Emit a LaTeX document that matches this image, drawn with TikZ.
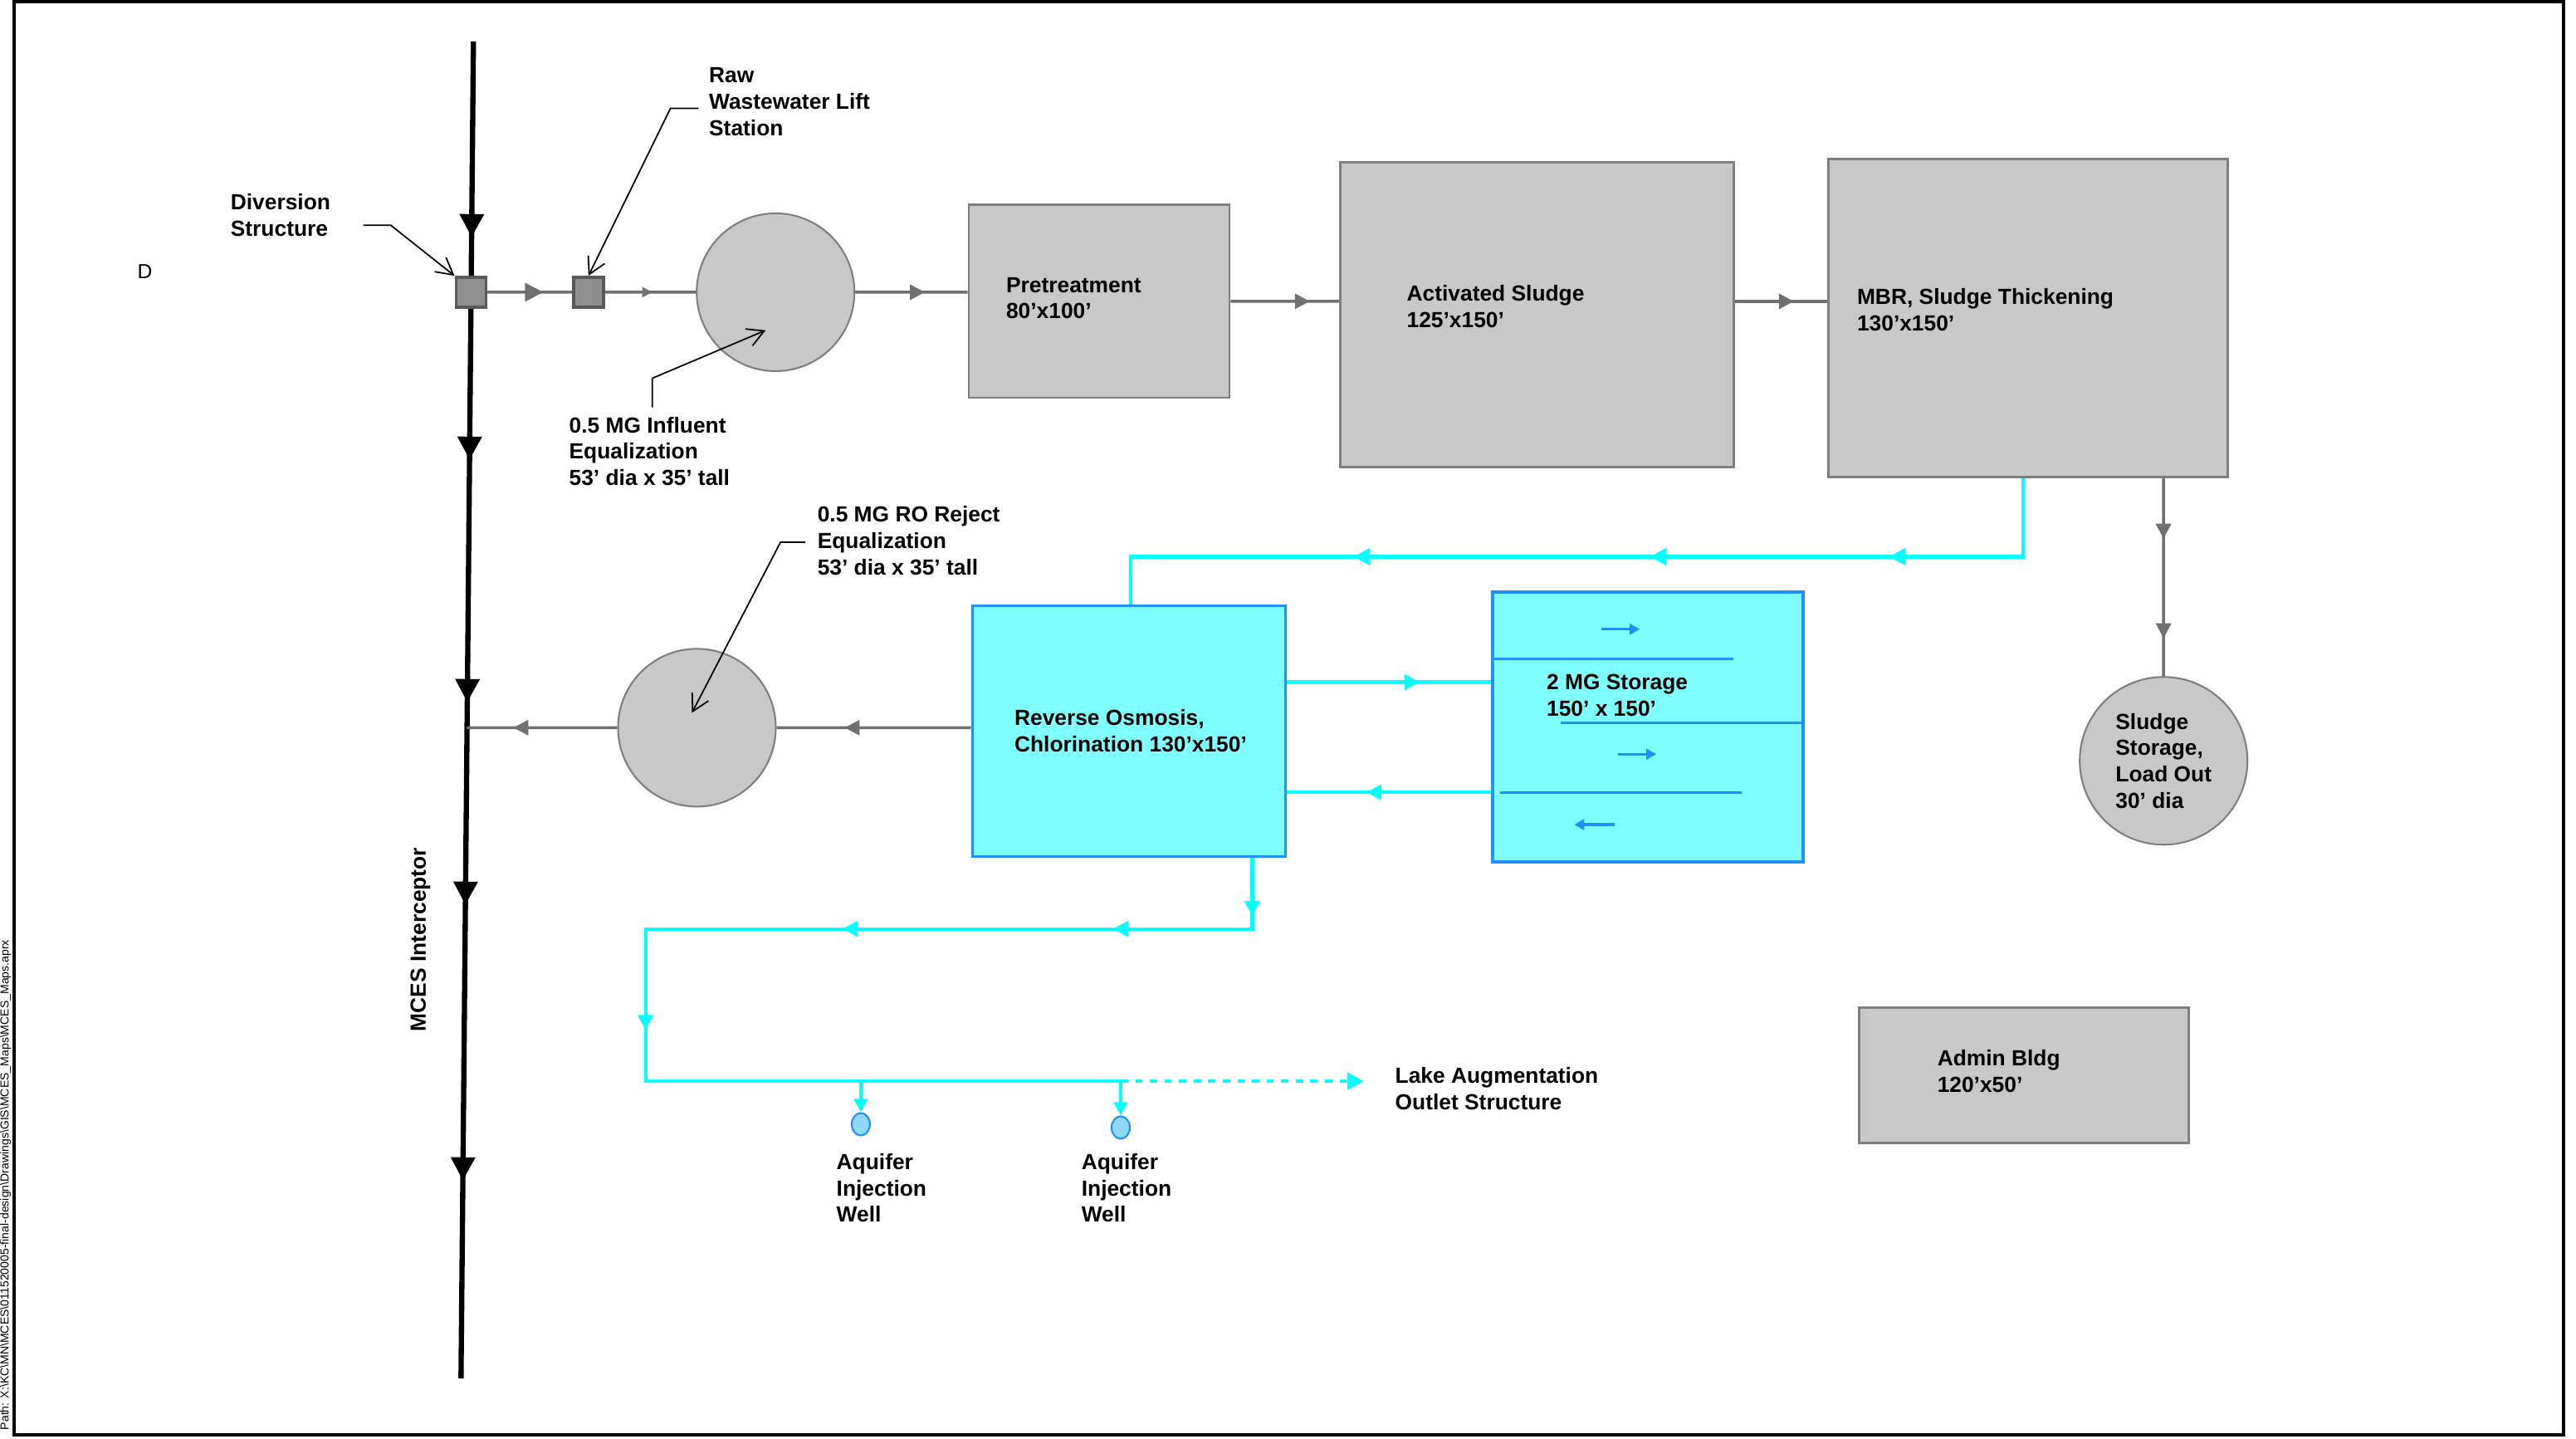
\documentclass[tikz,border=0pt]{standalone}
\usepackage{fontspec}
\setmainfont{Liberation Sans}
\usetikzlibrary{decorations.markings,arrows.meta,shapes.geometric}
\definecolor{boxgray}{HTML}{C8C8C8}
\definecolor{edgegray}{HTML}{7F7F7F}
\definecolor{linegray}{HTML}{707070}
\definecolor{chambergray}{HTML}{8F8F8F}
\definecolor{aqua}{HTML}{00FFFF}
\definecolor{aquafill}{HTML}{80FFFF}
\definecolor{rimblue}{HTML}{1E90FF}
\definecolor{wellfill}{HTML}{8FD8FF}

\begin{document}
\begin{tikzpicture}
[
scale=0.997,
amark/.style 2 args={
            postaction={decorate,
                        decoration={
                                    markings,
                                    mark=at position {#1} with {\arrow{Triangle[length=#2,width=#2]}}
                        }
            }
},
plant/.style={draw=edgegray,fill=boxgray,line width=0.8pt,rectangle,inner sep=0pt},
treat/.style={draw=rimblue,fill=aquafill,line width=1pt,rectangle,inner sep=0pt},
tank/.style={draw=edgegray,fill=boxgray,line width=0.6pt,circle,inner sep=0pt},
chamber/.style={draw=edgegray!70!black,fill=chambergray,line width=1pt,inner sep=0pt,minimum size=0.36cm},
well/.style={ellipse,draw=rimblue,fill=wellfill,line width=0.6pt,minimum width=0.22cm,minimum height=0.27cm,inner sep=0pt},
lbl/.style={font=\fontsize{7.5}{9}\selectfont\bfseries,align=left,inner sep=0pt,anchor=west},
pipe/.style={draw=linegray,line width=1pt},
clean/.style={draw=aqua,line width=1.2pt},
baffle/.style={draw=rimblue,line width=0.9pt},
lead/.style={draw=black,line width=0.5pt,-{Straight Barb[length=2mm,width=2.2mm]}},
]

\useasboundingbox (0,0) rectangle (31.123,-17.372);
\draw[line width=1.1pt] (0.17,-0.02) rectangle (30.97,-17.33);
\node[rotate=90,anchor=south west,inner sep=0pt,font=\fontsize{4}{4}\selectfont] (pathnote) at (0.14,-17.28)
  {Path: X:\textbackslash KC\textbackslash MN\textbackslash MCES\textbackslash 011520005-final-design\textbackslash Drawings\textbackslash GIS\textbackslash MCES\_Maps\textbackslash MCES\_Maps.aprx};
\node[font=\fontsize{7}{8}\selectfont] (dmark) at (1.75,-3.28) {D};

%The interceptor
\coordinate (mtop) at (5.72,-0.50);
\coordinate (mbot) at (5.57,-16.65);
\draw[line width=1.8pt,amark={2.36cm}{2.8mm},amark={5.04cm}{2.8mm},amark={7.96cm}{2.8mm},
      amark={10.40cm}{2.8mm},amark={13.72cm}{2.8mm}] (mtop) -- (mbot);
\node[lbl,rotate=90,anchor=center] (mces) at (5.08,-11.35) {MCES Interceptor};

%Place the nodes
\node[chamber] (div) at (5.69,-3.53) {};
\node[chamber] (lift) at (7.11,-3.53) {};
\node[tank,minimum size=1.9cm] (infeq) at (9.37,-3.53) {};
\node[plant,minimum width=3.14cm,minimum height=2.32cm] (pretreat) at (13.28,-3.64) {};
\node[plant,minimum width=4.74cm,minimum height=3.67cm] (actsl) at (18.57,-3.80) {};
\node[plant,minimum width=4.81cm,minimum height=3.83cm] (mbr) at (24.50,-3.84) {};
\node[tank,minimum size=2.02cm,font=\fontsize{7.5}{9}\selectfont\bfseries,align=left] (sludge) at (26.14,-9.19)
  {Sludge\\Storage,\\Load Out\\30' dia};
\node[treat,minimum width=3.77cm,minimum height=3.02cm] (ro) at (13.64,-8.83) {};
\node[treat,minimum width=3.74cm,minimum height=3.25cm] (store) at (19.91,-8.78) {};
\node[tank,minimum size=1.9cm] (rejeq) at (8.42,-8.79) {};
\node[plant,minimum width=3.97cm,minimum height=1.63cm] (admin) at (24.455,-12.985) {};
\node[well] (well1) at (10.40,-13.58) {};
\node[well] (well2) at (13.54,-13.62) {};

%Labels
\node[lbl] (divtxt) at (2.78,-2.60) {Diversion\\Structure};
\node[lbl] (rawtxt) at (8.56,-1.23) {Raw\\Wastewater Lift\\Station};
\node[lbl] (inftxt) at (6.87,-5.45) {0.5 MG Influent\\Equalization\\53' dia x 35' tall};
\node[lbl] (rejtxt) at (9.87,-6.53) {0.5 MG RO Reject\\Equalization\\53' dia x 35' tall};
\node[lbl] (pretreattxt) at (12.15,-3.60) {Pretreatment\\80'x100'};
\node[lbl] (actsltxt) at (16.99,-3.70) {Activated Sludge\\125'x150'};
\node[lbl] (mbrtxt) at (22.43,-3.74) {MBR, Sludge Thickening\\130'x150'};
\node[lbl] (rotxt) at (12.25,-8.83) {Reverse Osmosis,\\Chlorination 130'x150'};
\node[lbl] (storetxt) at (18.68,-8.40) {2 MG Storage\\150' x 150'};
\node[lbl] (admintxt) at (23.40,-12.94) {Admin Bldg\\120'x50'};
\node[lbl] (well1txt) at (10.10,-14.35) {Aquifer\\Injection\\Well};
\node[lbl] (well2txt) at (13.06,-14.35) {Aquifer\\Injection\\Well};
\node[lbl] (lake) at (16.85,-13.15) {Lake Augmentation\\Outlet Structure};

%Leaders
\coordinate (divtag) at (4.39,-2.72);
\coordinate (rawtag) at (8.44,-1.31);
\coordinate (inftag) at (7.88,-4.92);
\coordinate (infpt) at (9.25,-3.99);
\coordinate (rejtag) at (9.73,-6.55);
\coordinate (rejpt) at (8.36,-8.61);
\draw[lead] (divtag) -- ++(0.33,0) -- (div.north west);
\draw[lead] (rawtag) -- ++(-0.34,0) -- (lift.north);
\draw[lead] (inftag) -- ++(0,0.35) -- (infpt);
\draw[lead] (rejtag) -- ++(-0.30,0) -- (rejpt);

%Draw the connections
\draw[pipe,amark={0.66}{2.2mm}] (div) -- (lift);
\draw[pipe,amark={0.52}{1.2mm}] (lift) -- (infeq);
\draw[pipe,amark={0.62}{1.8mm}] (infeq) -- (pretreat.west |- infeq);
\draw[pipe,amark={0.73}{1.8mm}] (pretreat) -- (actsl.west |- pretreat);
\draw[pipe,amark={0.64}{1.8mm}] (actsl.east |- pretreat) -- (mbr.west |- pretreat);
\draw[pipe,amark={0.73cm}{1.8mm},amark={1.93cm}{1.8mm}] (sludge |- mbr.south) -- (sludge);
\coordinate (outfall) at (5.64,-8.79);
\draw[pipe,amark={0.65}{1.8mm}] (ro.west |- rejeq) -- (rejeq);
\draw[pipe,amark={0.69}{1.8mm}] (rejeq) -- (outfall);

%Permeate loop
\coordinate (mbrrecl) at (24.44,0);
\coordinate (rofeed) at (13.66,0);
\draw[clean,amark={2.56cm}{2mm},amark={5.44cm}{2mm},amark={9.01cm}{2mm}]
  (mbr.south -| mbrrecl) -- ++(0,-0.95) -| (ro.north -| rofeed);
\coordinate (rofwd) at ([yshift=5.9mm]ro.east);
\coordinate (roret) at ([yshift=-7.4mm]ro.east);
\draw[clean,amark={0.65}{1.8mm}] (rofwd) -- (rofwd -| store.west);
\draw[clean,amark={0.61}{1.8mm}] (roret -| store.west) -- (roret);

%Storage baffles
\draw[baffle] (18.04,-7.96) -- (20.94,-7.96);
\draw[baffle] (18.86,-8.73) -- (21.78,-8.73);
\draw[baffle] (18.12,-9.57) -- (21.04,-9.57);
\draw[baffle,-{Triangle[length=1.2mm,width=1.3mm]}] (19.35,-7.60) -- (19.81,-7.60);
\draw[baffle,-{Triangle[length=1.2mm,width=1.3mm]}] (19.55,-9.11) -- (20.01,-9.11);
\draw[baffle,-{Triangle[length=1.2mm,width=1.3mm]}] (19.51,-9.96) -- (19.02,-9.96);

%Product water
\coordinate (rodraw) at (15.13,0);
\coordinate (loopw) at (7.80,-11.22);
\coordinate (junc) at (13.54,-13.06);
\draw[clean,amark={0.70cm}{1.8mm},amark={2.53cm}{1.8mm},amark={5.79cm}{1.8mm},amark={9.38cm}{1.8mm}]
  (ro.south -| rodraw) |- (loopw) |- (junc);
\draw[clean,dash pattern=on 2.5pt off 2.5pt,-{Triangle[length=2mm,width=2mm]},shorten >=0.37cm] (junc) -- (lake.west |- junc);
\draw[clean,-{Triangle[length=1.6mm,width=1.6mm]}] (well1 |- junc) -- (well1.north);
\draw[clean,-{Triangle[length=1.6mm,width=1.6mm]}] (well2 |- junc) -- (well2.north);
\end{tikzpicture}
\end{document}
